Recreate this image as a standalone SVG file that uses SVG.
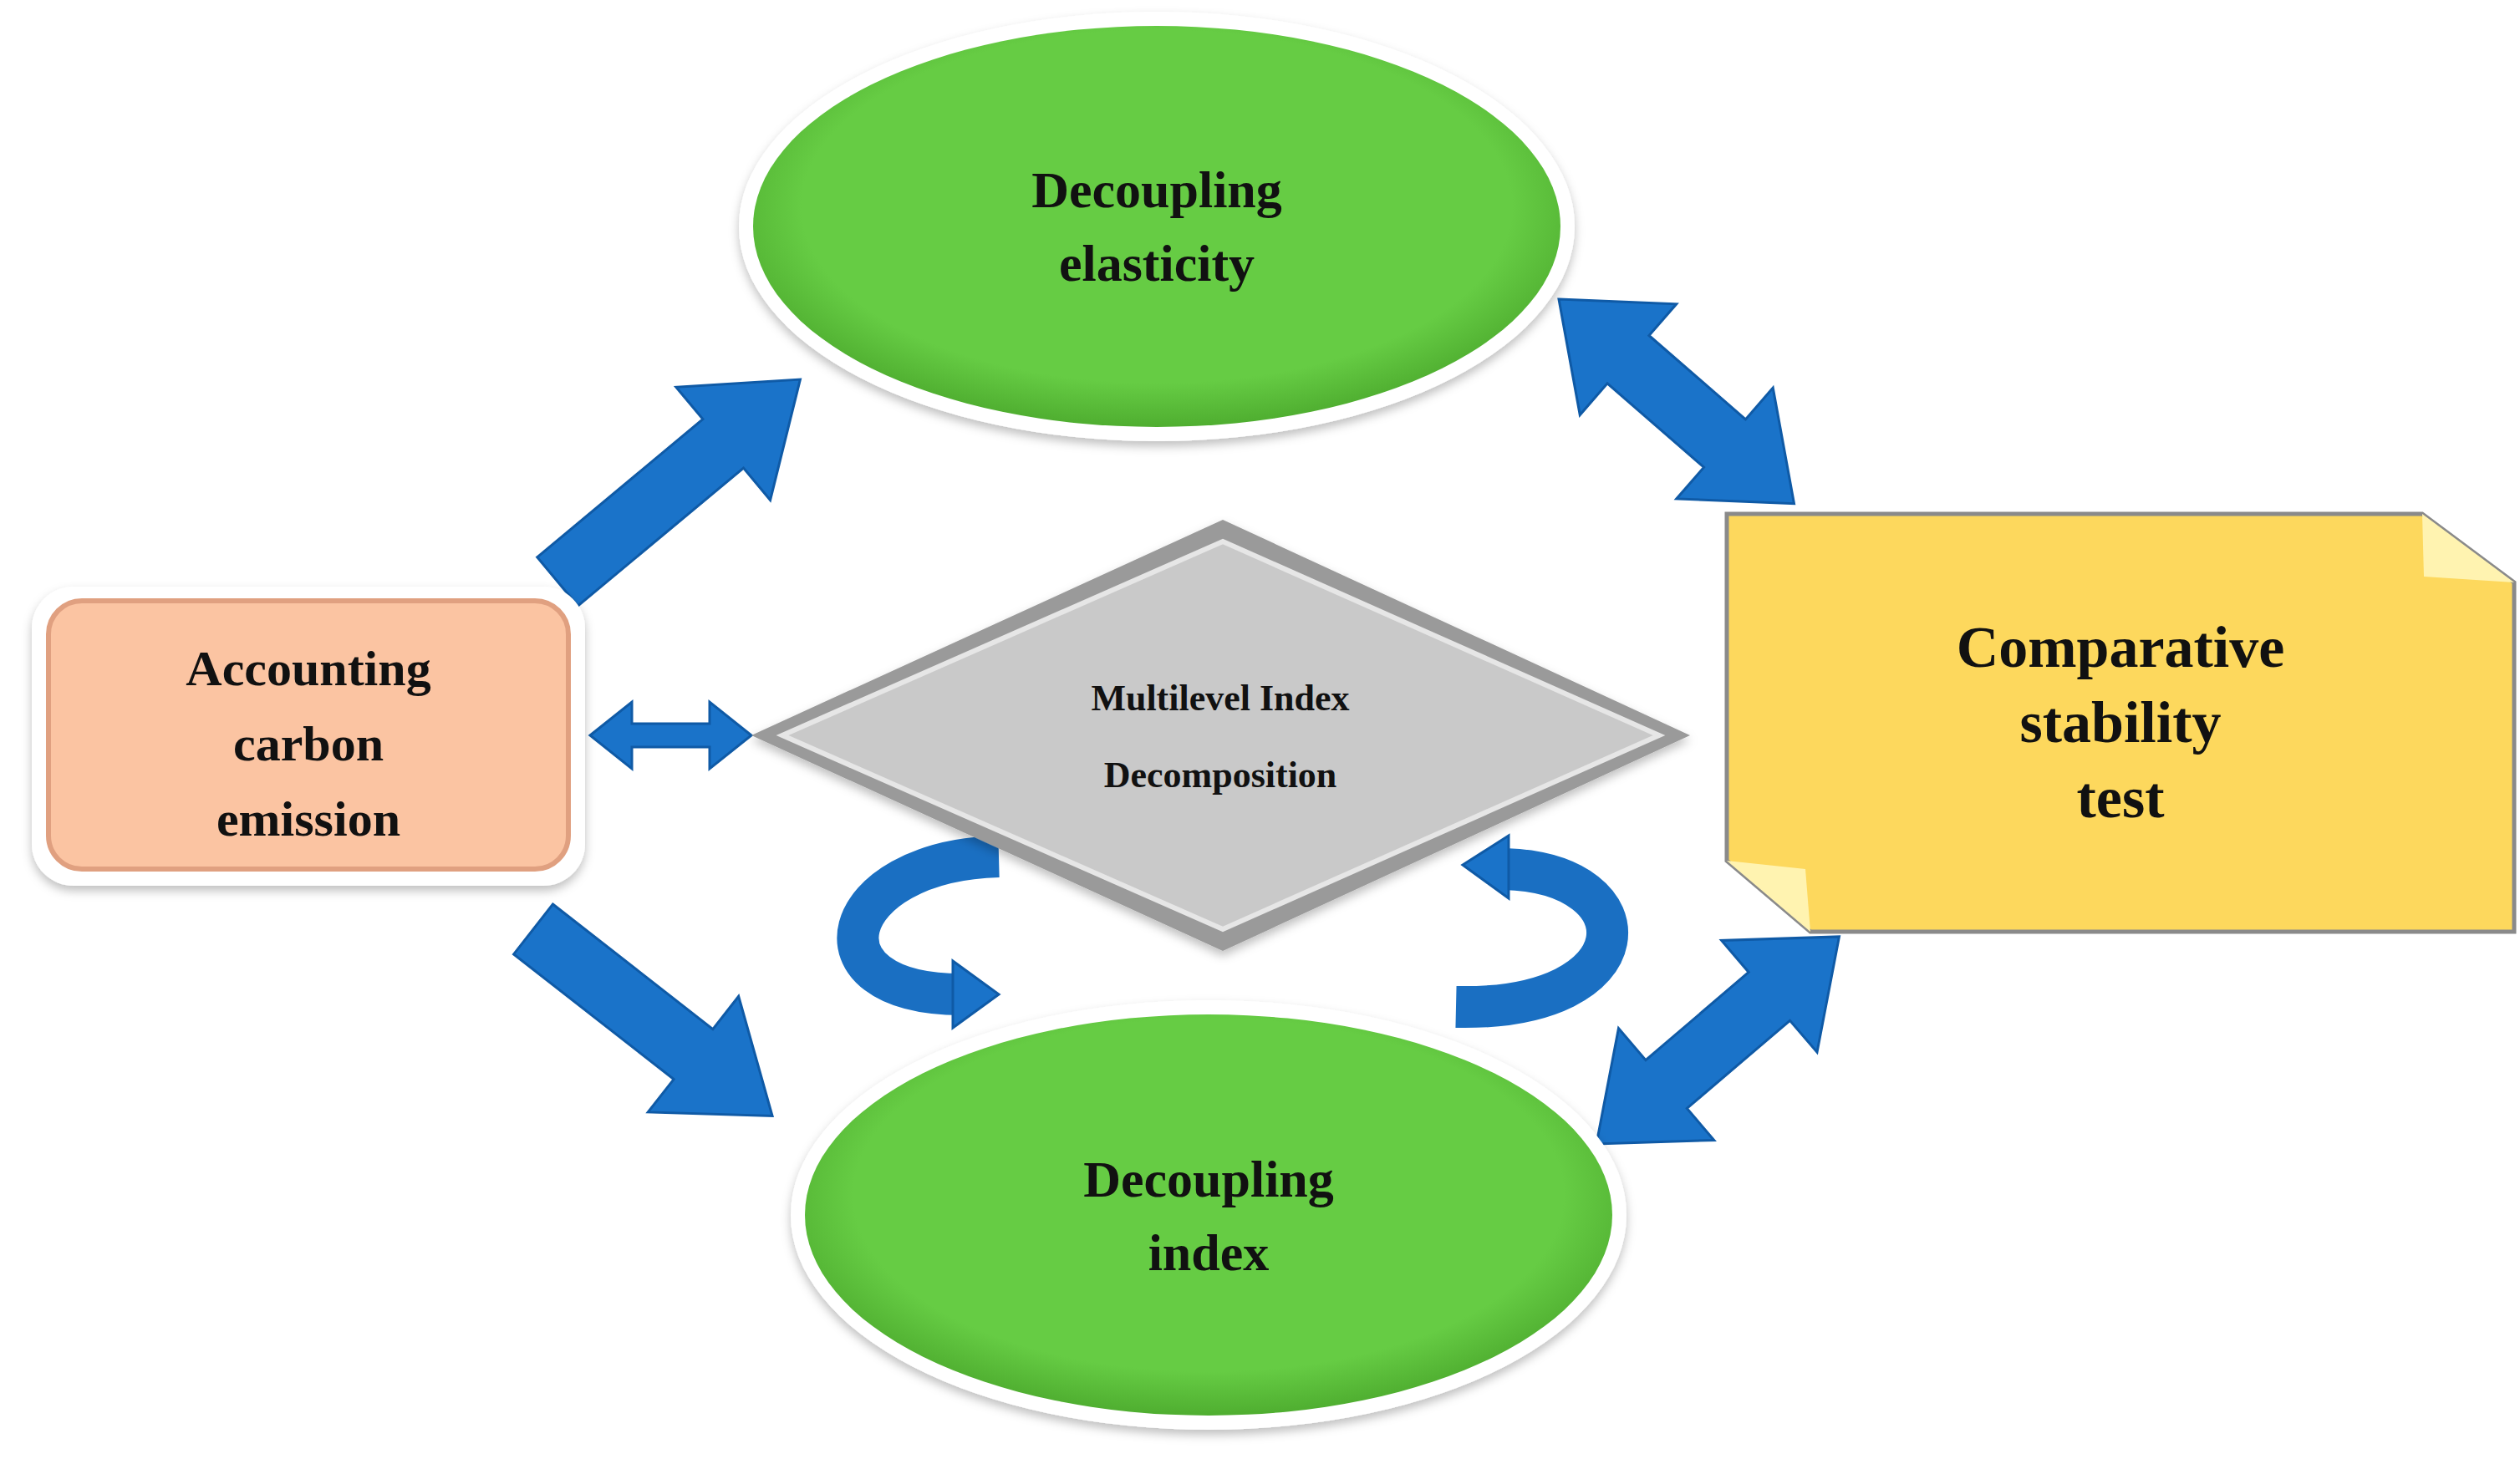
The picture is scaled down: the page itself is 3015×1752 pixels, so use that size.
<svg xmlns="http://www.w3.org/2000/svg" width="3015" height="1752" viewBox="0 0 3015 1752">
<defs>
<style>
.t{font-family:"Liberation Serif","Times New Roman",serif;font-weight:bold;fill:#111;text-anchor:middle}
.arr{fill:#1a73c9;stroke:#0f5aa6;stroke-width:3}
.curve{fill:none;stroke:#1a6fc2;stroke-width:50}
</style>
<radialGradient id="green" cx="50%" cy="45%" r="55%"><stop offset="0.8" stop-color="#66cc44"/><stop offset="1" stop-color="#4fae30"/></radialGradient>
<filter id="sh" x="-10%" y="-10%" width="120%" height="130%"><feDropShadow dx="0" dy="6" stdDeviation="6" flood-color="#000" flood-opacity="0.25"/></filter>
</defs>
<rect width="3015" height="1752" fill="#fff"/>
<g id="connectors">
<polygon class="arr" transform="translate(667,696) rotate(-39.8)" points="0,-38 258,-38 258,-88 378,0 258,88 258,38 0,38"/>
<polygon class="arr" transform="translate(638,1112) rotate(38)" points="0,-38 243,-38 243,-88 363,0 243,88 243,38 0,38"/>
<polygon class="arr" transform="translate(1865,358) rotate(41)" points="0,0 110,-88 110,-38 263,-38 263,-88 373,0 263,88 263,38 110,38 110,88"/>
<polygon class="arr" transform="translate(1910,1369) rotate(-40.5)" points="0,0 110,-88 110,-38 272,-38 272,-88 382,0 272,88 272,38 110,38 110,88"/>
<polygon class="arr" points="706,880 756,840 756,866 849,866 849,840 899,880 849,920 849,894 756,894 756,920"/>
<path class="curve" d="M1195,1025 C1000,1030 960,1190 1150,1190"/>
<polygon class="arr" points="1140,1150 1195,1190 1140,1230"/>
<path class="curve" d="M1742,1205 C1970,1210 1975,1045 1800,1040"/>
<polygon class="arr" points="1805,1000 1750,1035 1805,1075"/>
</g>
<g id="top-ellipse">
<ellipse cx="1384" cy="271" rx="500" ry="257" fill="#fff" filter="url(#sh)"/>
<ellipse cx="1384" cy="271" rx="483" ry="240" fill="url(#green)"/>
<text class="t" x="1384" y="248" font-size="62">Decoupling</text>
<text class="t" x="1384" y="336" font-size="62">elasticity</text>
</g>
<g id="bottom-ellipse">
<ellipse cx="1446" cy="1454" rx="500" ry="257" fill="#fff" filter="url(#sh)"/>
<ellipse cx="1446" cy="1454" rx="483" ry="240" fill="url(#green)"/>
<text class="t" x="1446" y="1432" font-size="62">Decoupling</text>
<text class="t" x="1446" y="1520" font-size="62">index</text>
</g>
<g id="accounting">
<rect x="38" y="702" width="662" height="358" rx="50" fill="#fff" filter="url(#sh)"/>
<rect x="58" y="719" width="622" height="321" rx="40" fill="#fbc4a2" stroke="#e0a080" stroke-width="6"/>
<text class="t" x="369" y="820" font-size="60">Accounting</text>
<text class="t" x="369" y="910" font-size="60">carbon</text>
<text class="t" x="369" y="1000" font-size="60">emission</text>
</g>
<g id="diamond">
<polygon points="1463,622 2022,880 1463,1138 899,880" fill="#9a9a9a" filter="url(#sh)"/>
<polygon points="1463,648 1985,880 1463,1112 936,880" fill="#c9c9c9" stroke="#e6e6e6" stroke-width="6"/>
<text class="t" x="1460" y="850" font-size="44">Multilevel Index</text>
<text class="t" x="1460" y="942" font-size="44">Decomposition</text>
</g>
<g id="comparative">
<polygon points="2066,615 2898,615 3008,697 3008,1115 2166,1115 2066,1030" fill="#fdd85d" stroke="#8a8a8a" stroke-width="5"/>
<polygon points="2898,615 2900,690 3008,697" fill="#fff3b0"/>
<polygon points="2066,1030 2160,1040 2166,1115" fill="#fff3b0"/>
<text class="t" x="2537" y="798" font-size="70">Comparative</text>
<text class="t" x="2537" y="888" font-size="70">stability</text>
<text class="t" x="2537" y="978" font-size="70">test</text>
</g>
</svg>
